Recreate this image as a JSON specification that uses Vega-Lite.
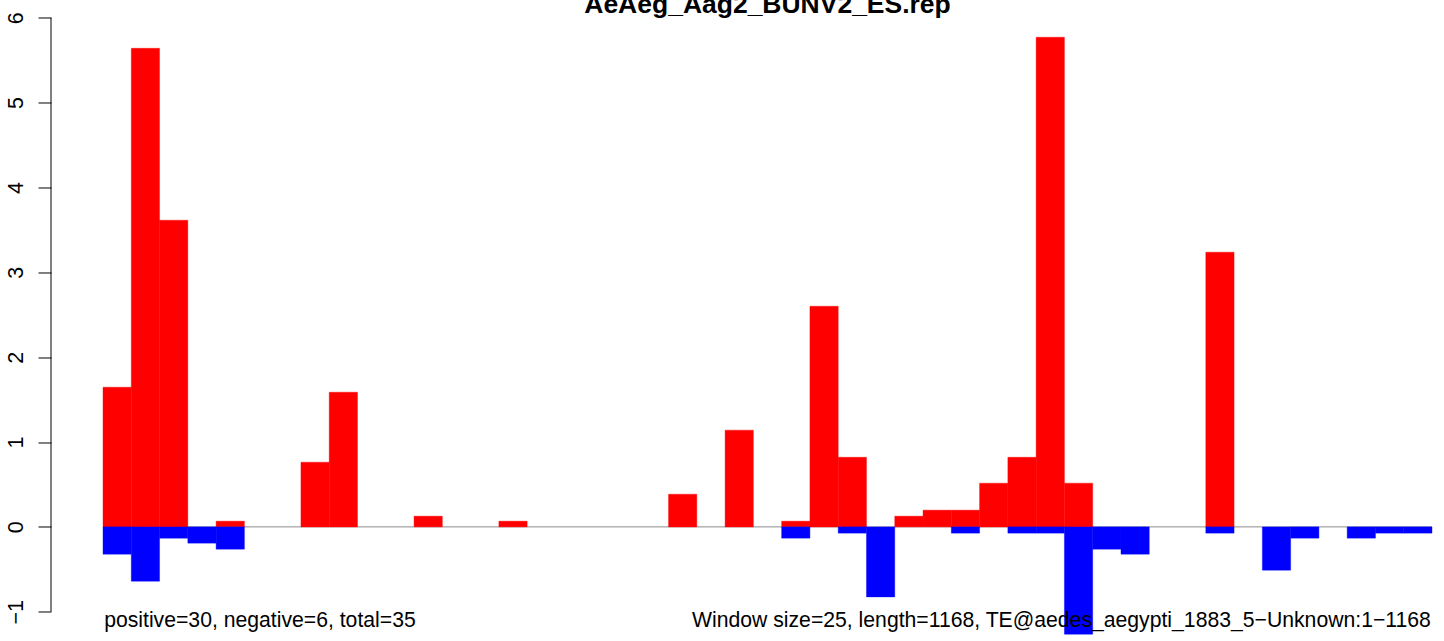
{
  "$schema": "https://vega.github.io/schema/vega-lite/v6.json",
  "width": 1392,
  "height": 623.7,
  "autosize": {"type": "none"},
  "padding": {"left": 51, "top": 13.5, "right": 1, "bottom": 3},
  "background": "white",
  "config": {"view": {"stroke": null}, "font": "Liberation Sans"},
  "datasets": {
    "windows": [
      {"start": 0, "end": 25, "pos": 1.646, "neg": -0.322},
      {"start": 25, "end": 50, "pos": 5.64, "neg": -0.64},
      {"start": 50, "end": 75, "pos": 3.614, "neg": -0.133},
      {"start": 75, "end": 100, "pos": 0, "neg": -0.192},
      {"start": 100, "end": 125, "pos": 0.067, "neg": -0.263},
      {"start": 125, "end": 150, "pos": 0, "neg": 0},
      {"start": 150, "end": 175, "pos": 0, "neg": 0},
      {"start": 175, "end": 200, "pos": 0.762, "neg": 0},
      {"start": 200, "end": 225, "pos": 1.587, "neg": 0},
      {"start": 225, "end": 250, "pos": 0, "neg": 0},
      {"start": 250, "end": 275, "pos": 0, "neg": 0},
      {"start": 275, "end": 300, "pos": 0.126, "neg": 0},
      {"start": 300, "end": 325, "pos": 0, "neg": 0},
      {"start": 325, "end": 350, "pos": 0, "neg": 0},
      {"start": 350, "end": 375, "pos": 0.067, "neg": 0},
      {"start": 375, "end": 400, "pos": 0, "neg": 0},
      {"start": 400, "end": 425, "pos": 0, "neg": 0},
      {"start": 425, "end": 450, "pos": 0, "neg": 0},
      {"start": 450, "end": 475, "pos": 0, "neg": 0},
      {"start": 475, "end": 500, "pos": 0, "neg": 0},
      {"start": 500, "end": 525, "pos": 0.385, "neg": 0},
      {"start": 525, "end": 550, "pos": 0, "neg": 0},
      {"start": 550, "end": 575, "pos": 1.14, "neg": 0},
      {"start": 575, "end": 600, "pos": 0, "neg": 0},
      {"start": 600, "end": 625, "pos": 0.067, "neg": -0.133},
      {"start": 625, "end": 650, "pos": 2.6, "neg": 0},
      {"start": 650, "end": 675, "pos": 0.82, "neg": -0.074},
      {"start": 675, "end": 700, "pos": 0, "neg": -0.825},
      {"start": 700, "end": 725, "pos": 0.126, "neg": 0},
      {"start": 725, "end": 750, "pos": 0.197, "neg": 0},
      {"start": 750, "end": 775, "pos": 0.197, "neg": -0.074},
      {"start": 775, "end": 800, "pos": 0.515, "neg": 0},
      {"start": 800, "end": 825, "pos": 0.82, "neg": -0.074},
      {"start": 825, "end": 850, "pos": 5.77, "neg": -0.074},
      {"start": 850, "end": 875, "pos": 0.515, "neg": -1.265},
      {"start": 875, "end": 900, "pos": 0, "neg": -0.263},
      {"start": 900, "end": 925, "pos": 0, "neg": -0.322},
      {"start": 925, "end": 950, "pos": 0, "neg": 0},
      {"start": 950, "end": 975, "pos": 0, "neg": 0},
      {"start": 975, "end": 1000, "pos": 3.237, "neg": -0.074},
      {"start": 1000, "end": 1025, "pos": 0, "neg": 0},
      {"start": 1025, "end": 1050, "pos": 0, "neg": -0.51},
      {"start": 1050, "end": 1075, "pos": 0, "neg": -0.133},
      {"start": 1075, "end": 1100, "pos": 0, "neg": 0},
      {"start": 1100, "end": 1125, "pos": 0, "neg": -0.133},
      {"start": 1125, "end": 1150, "pos": 0, "neg": -0.074},
      {"start": 1150, "end": 1175, "pos": 0, "neg": -0.074}
    ],
    "single": [{}]
  },
  "data": {"name": "windows"},
  "layer": [
    {
      "data": {"name": "single"},
      "mark": {"type": "rule", "color": "#8c8c8c", "strokeWidth": 1},
      "encoding": {
        "x": {"datum": 0, "type": "quantitative", "scale": {"domain": [-45.97, 1184.7], "nice": false, "zero": false}, "axis": null},
        "x2": {"datum": 1175},
        "y": {"datum": 0, "type": "quantitative"}
      }
    },
    {
      "transform": [{"filter": "datum.pos > 0"}],
      "mark": {"type": "bar", "color": "#ff0000", "stroke": "#ff0000", "strokeWidth": 0.4},
      "encoding": {
        "x": {"field": "start", "type": "quantitative", "scale": {"domain": [-45.97, 1184.7], "nice": false, "zero": false}, "axis": null},
        "x2": {"field": "end"},
        "y": {"field": "pos", "type": "quantitative", "scale": {"domain": [-1.3, 6.05], "nice": false, "zero": false},
              "axis": {"values": [-1, 0, 1, 2, 3, 4, 5, 6], "format": "d", "title": null, "grid": false, "domain": false,
                       "ticks": true, "tickSize": 13, "tickColor": "#000000", "tickWidth": 1,
                       "labelAngle": -90, "labelAlign": "center", "labelBaseline": "alphabetic", "labelPadding": 16,
                       "labelFontSize": 21.5, "labelColor": "#000000", "labelFont": "Liberation Sans", "labelFlush": false, "labelOverlap": false}},
        "y2": {"datum": 0}
      }
    },
    {
      "transform": [{"filter": "datum.neg < 0"}],
      "mark": {"type": "bar", "color": "#0000ff", "stroke": "#0000ff", "strokeWidth": 0.4},
      "encoding": {
        "x": {"field": "start", "type": "quantitative"},
        "x2": {"field": "end"},
        "y": {"field": "neg", "type": "quantitative"},
        "y2": {"datum": 0}
      }
    },
    {
      "data": {"name": "single"},
      "mark": {"type": "rule", "color": "#000000", "strokeWidth": 1},
      "encoding": {
        "x": {"datum": -45.97, "type": "quantitative"},
        "y": {"datum": -1, "type": "quantitative"},
        "y2": {"datum": 6}
      }
    },
    {
      "data": {"name": "single"},
      "mark": {"type": "text", "text": "AeAeg_Aag2_BUNV2_ES.rep", "fontWeight": "bold", "fontSize": 26.5, "align": "center", "baseline": "alphabetic", "color": "#000000", "font": "Liberation Sans"},
      "encoding": {
        "x": {"datum": 587.5, "type": "quantitative"},
        "y": {"datum": 6.054, "type": "quantitative"}
      }
    },
    {
      "data": {"name": "single"},
      "mark": {"type": "text", "text": "positive=30, negative=6, total=35", "fontSize": 21.2, "align": "left", "baseline": "alphabetic", "color": "#000000", "font": "Liberation Sans"},
      "encoding": {
        "x": {"datum": 1, "type": "quantitative"},
        "y": {"datum": -1.178, "type": "quantitative"}
      }
    },
    {
      "data": {"name": "single"},
      "mark": {"type": "text", "text": "Window size=25, length=1168, TE@aedes_aegypti_1883_5\u2212Unknown:1\u22121168", "fontSize": 21.2, "align": "right", "baseline": "alphabetic", "color": "#000000", "font": "Liberation Sans"},
      "encoding": {
        "x": {"datum": 1174, "type": "quantitative"},
        "y": {"datum": -1.178, "type": "quantitative"}
      }
    }
  ]
}
